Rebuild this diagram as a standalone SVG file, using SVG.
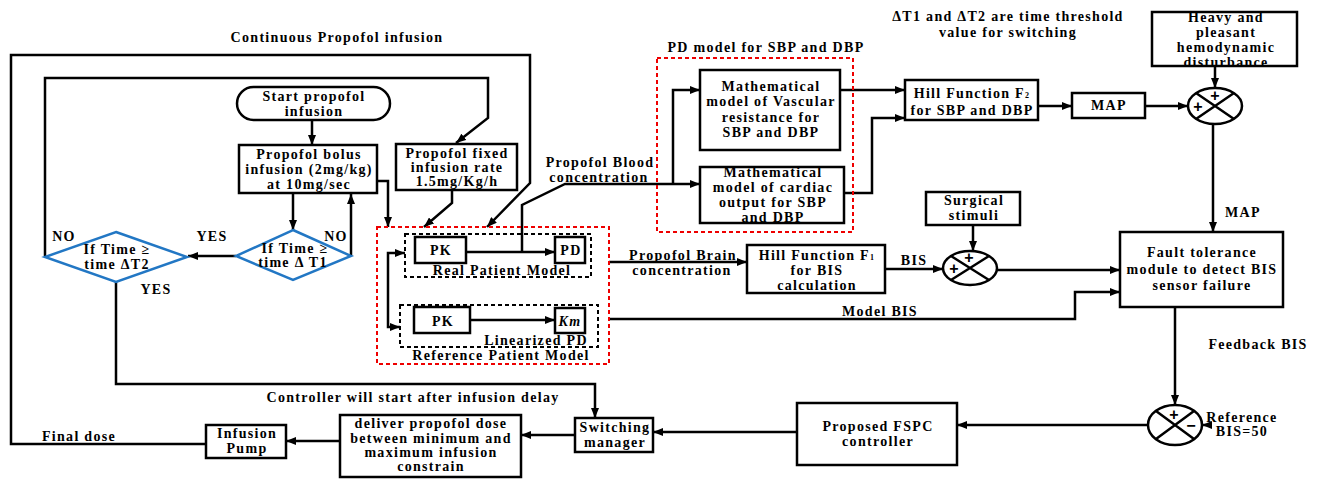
<svg xmlns="http://www.w3.org/2000/svg" width="1320" height="480" viewBox="0 0 1320 480">
<defs>
<marker id="ar" viewBox="0 0 10 8" refX="10" refY="4" markerWidth="10" markerHeight="8" markerUnits="userSpaceOnUse" orient="auto"><path d="M0,0 L10,4 L0,8 z" fill="#000"/></marker>
<style>
text{font-family:"Liberation Serif","Times New Roman",serif;font-weight:bold;font-size:14px;letter-spacing:1.3px;fill:#000;text-anchor:middle}
.box{fill:#fff;stroke:#000;stroke-width:2.5}
.dia{fill:#fff;stroke:#2277c4;stroke-width:2.5}
.red{fill:none;stroke:#e00;stroke-width:2;stroke-dasharray:4,3}
.blk{fill:none;stroke:#000;stroke-width:2;stroke-dasharray:4,3}
.c{fill:none;stroke:#000;stroke-width:2.5}
.ca{fill:none;stroke:#000;stroke-width:2.5;marker-end:url(#ar)}
.sum{fill:#fff;stroke:#000;stroke-width:2.5}
.sg{font-family:"Liberation Sans",Arial,sans-serif;font-size:16px;letter-spacing:0}
</style>
</defs>

<g id="labels">
<text x="337" y="42">Continuous Propofol infusion</text>
<text x="1008" y="21">ΔT1 and ΔT2 are time threshold</text>
<text x="1008" y="37">value for switching</text>
<text x="766" y="52">PD model for SBP and DBP</text>
<text x="600" y="167">Propofol Blood</text>
<text x="599" y="182">concentration</text>
<text x="683" y="260">Propofol Brain</text>
<text x="682" y="275">concentration</text>
<text x="914" y="265">BIS</text>
<text x="1243" y="217">MAP</text>
<text x="880" y="316">Model BIS</text>
<text x="1258" y="349">Feedback  BIS</text>
<text x="1242" y="422">Reference</text>
<text x="1242" y="436">BIS=50</text>
<text x="413" y="402">Controller will start after infusion delay</text>
<text x="79" y="441">Final dose</text>
<text x="212" y="241">YES</text>
<text x="336" y="241">NO</text>
<text x="64" y="241">NO</text>
<text x="156" y="294">YES</text>
</g>

<g id="connectors">
<path class="ca" d="M312,120 V145"/>
<path class="ca" d="M293,193 V230"/>
<path class="ca" d="M351,256 V194"/>
<path class="ca" d="M236,256 H188"/>
<path class="ca" d="M45,256 V78 H488 V118 L456,143"/>
<path class="ca" d="M452,190 V203 L424,227"/>
<path class="ca" d="M377,181 H388 V227"/>
<path class="ca" d="M206,444 H11 V55 H530 V183 L487,227"/>
<path class="ca" d="M116,282 V384 H595 V418"/>
<path class="ca" d="M388,290 V253 H405"/>
<path class="ca" d="M388,290 V327 H400"/>
<path class="ca" d="M466,252 H555"/>
<path class="ca" d="M470,320 H555"/>
<path class="c" d="M522,252 V205 L565,184 H673"/>
<path class="ca" d="M673,184 H700"/>
<path class="ca" d="M673,184 V90 H700"/>
<path class="ca" d="M840,90 H905"/>
<path class="ca" d="M844,193 H872 V118 H905"/>
<path class="ca" d="M1038,106 H1072"/>
<path class="ca" d="M1145,106 H1188"/>
<path class="ca" d="M1215,66 V88"/>
<path class="ca" d="M1213,124 V232"/>
<path class="ca" d="M609,262 H747"/>
<path class="ca" d="M885,269 H943"/>
<path class="ca" d="M973,225 V251"/>
<path class="ca" d="M997,270 H1120"/>
<path class="ca" d="M609,319 H1075 V292 H1120"/>
<path class="ca" d="M1175,307 V405"/>
<path class="ca" d="M1212,425 H1202"/>
<path class="ca" d="M1148,425 H957"/>
<path class="ca" d="M797,432 H653"/>
<path class="ca" d="M575,435 H521"/>
<path class="ca" d="M340,441 H286"/>
</g>

<g id="pd-model-group"><rect class="red" x="657" y="58" width="196" height="174"/></g>
<g id="patient-group"><rect class="red" x="377" y="227" width="232" height="137"/></g>
<g id="real-patient-model"><rect class="blk" x="405" y="234" width="186" height="43"/><text x="502" y="275">Real Patient Model</text></g>
<g id="reference-patient-model"><rect class="blk" x="400" y="305" width="198" height="42"/><text x="536" y="345">Linearized PD</text><text x="501" y="360">Reference Patient Model</text></g>

<g id="start"><rect class="box" x="237" y="87" width="153" height="33" rx="16.5"/><text x="314" y="101">Start propofol</text><text x="314" y="116">infusion</text></g>
<g id="bolus"><rect class="box" x="239" y="145" width="138" height="48"/><text x="309" y="159">Propofol bolus</text><text x="309" y="174">infusion (2mg/kg)</text><text x="309" y="189">at 10mg/sec</text></g>
<g id="fixed-rate"><rect class="box" x="396" y="144" width="121" height="46"/><text x="457" y="158">Propofol  fixed</text><text x="457" y="172">infusion rate</text><text x="457" y="186">1.5mg/Kg/h</text></g>
<g id="diamond1"><polygon class="dia" points="293,230 351,256 293,280 236,256"/><text x="295" y="253">If Time ≥</text><text x="293" y="267">time Δ T1</text></g>
<g id="diamond2"><polygon class="dia" points="116,232 187,257 116,282 45,257"/><text x="117" y="254">If Time ≥</text><text x="117" y="269">time ΔT2</text></g>

<g id="pk1"><rect class="box" x="415" y="237" width="51" height="26"/><text x="441" y="255">PK</text></g>
<g id="pd1"><rect class="box" x="555" y="237" width="30" height="26"/><text x="571" y="255">PD</text></g>
<g id="pk2"><rect class="box" x="414" y="307" width="56" height="26"/><text x="443" y="326">PK</text></g>
<g id="km"><rect class="box" x="555" y="308" width="30" height="25"/><text x="570" y="326" font-style="italic" letter-spacing="0">Km</text></g>

<g id="vascular"><rect class="box" x="700" y="70" width="140" height="80"/><text x="771" y="91">Mathematical</text><text x="771" y="106">model of Vascular</text><text x="771" y="122">resistance for</text><text x="771" y="137">SBP and DBP</text></g>
<g id="cardiac"><rect class="box" x="700" y="167" width="144" height="56"/><text x="773" y="177">Mathematical</text><text x="773" y="192">model of cardiac</text><text x="773" y="207">output for SBP</text><text x="773" y="222">and DBP</text></g>
<g id="hill2"><rect class="box" x="905" y="80" width="133" height="40"/><text x="972" y="98">Hill Function  F<tspan font-size="8">2</tspan></text><text x="972" y="115">for SBP and DBP</text></g>
<g id="map"><rect class="box" x="1072" y="93" width="73" height="25"/><text x="1109" y="110">MAP</text></g>
<g id="heavy"><rect class="box" x="1152" y="12" width="145" height="54"/><text x="1226" y="22">Heavy and</text><text x="1226" y="37">pleasant</text><text x="1226" y="52">hemodynamic</text><text x="1226" y="67">disturbance</text></g>
<g id="sum1"><ellipse class="sum" cx="1215" cy="106" rx="27" ry="18"/><path class="c" d="M1196,93 L1234,119 M1234,93 L1196,119"/><text class="sg" x="1215" y="101">+</text><text class="sg" x="1198" y="112">+</text></g>

<g id="hill1"><rect class="box" x="747" y="245" width="138" height="48"/><text x="817" y="260">Hill Function  F<tspan font-size="8">1</tspan></text><text x="817" y="275">for BIS</text><text x="817" y="290">calculation</text></g>
<g id="surgical"><rect class="box" x="926" y="192" width="94" height="33"/><text x="974" y="205">Surgical</text><text x="974" y="220">stimuli</text></g>
<g id="sum2"><ellipse class="sum" cx="970" cy="268" rx="27" ry="17"/><path class="c" d="M951,256 L989,280 M989,256 L951,280"/><text class="sg" x="969" y="263">+</text><text class="sg" x="954" y="274">+</text></g>
<g id="fault"><rect class="box" x="1120" y="232" width="163" height="75"/><text x="1202" y="257">Fault tolerance</text><text x="1202" y="274">module to detect BIS</text><text x="1202" y="290">sensor failure</text></g>
<g id="sum3"><ellipse class="sum" cx="1175" cy="425" rx="27" ry="20"/><path class="c" d="M1156,411 L1194,439 M1194,411 L1156,439"/><text class="sg" x="1174" y="420">+</text><text class="sg" x="1191" y="431">−</text></g>

<g id="fspc"><rect class="box" x="797" y="403" width="160" height="62"/><text x="878" y="431">Proposed FSPC</text><text x="878" y="446">controller</text></g>
<g id="switching"><rect class="box" x="575" y="418" width="78" height="34"/><text x="615" y="432">Switching</text><text x="615" y="447">manager</text></g>
<g id="deliver"><rect class="box" x="340" y="415" width="181" height="62"/><text x="431" y="428">deliver propofol dose</text><text x="431" y="443">between minimum and</text><text x="431" y="457">maximum infusion</text><text x="431" y="471">constrain</text></g>
<g id="pump"><rect class="box" x="206" y="425" width="80" height="33"/><text x="247" y="438">Infusion</text><text x="247" y="453">Pump</text></g>
</svg>
